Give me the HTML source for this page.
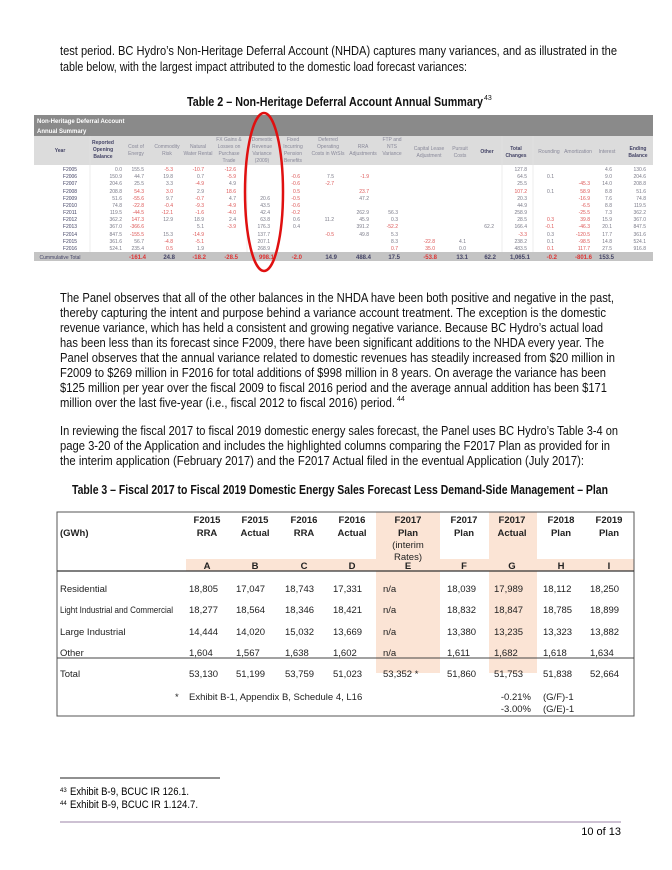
<!DOCTYPE html>
<html><head><meta charset="utf-8"><style>
html,body{margin:0;padding:0;background:#fff;}
svg{display:block;font-family:"Liberation Sans",sans-serif;}
</style></head><body>
<svg width="672" height="870" viewBox="0 0 672 870" xmlns="http://www.w3.org/2000/svg">
<rect width="672" height="870" fill="#fff"/>
<g font-size="13" fill="#111">
<text x="60" y="55" textLength="557" lengthAdjust="spacingAndGlyphs">test period. BC Hydro’s Non-Heritage Deferral Account (NHDA) captures many variances, and as illustrated in the</text>
<text x="60" y="71" textLength="407" lengthAdjust="spacingAndGlyphs">table below, with the largest impact attributed to the domestic load forecast variances:</text>
<text x="187" y="106" font-weight="bold" textLength="296" lengthAdjust="spacingAndGlyphs">Table 2 – Non-Heritage Deferral Account Annual Summary</text>
<text x="484" y="100" font-size="7">43</text>

<text x="60" y="302" textLength="554" lengthAdjust="spacingAndGlyphs">The Panel observes that all of the other balances in the NHDA have been both positive and negative in the past,</text>
<text x="60" y="317" textLength="546" lengthAdjust="spacingAndGlyphs">thereby capturing the intent and purpose behind a variance account treatment. The exception is the domestic</text>
<text x="60" y="332" textLength="543" lengthAdjust="spacingAndGlyphs">revenue variance, which has held a consistent and growing negative variance. Because BC Hydro’s actual load</text>
<text x="60" y="347" textLength="544" lengthAdjust="spacingAndGlyphs">has been less than its forecast since F2009, there have been significant additions to the NHDA every year. The</text>
<text x="60" y="362" textLength="555" lengthAdjust="spacingAndGlyphs">Panel observes that the annual variance related to domestic revenues has steadily increased from $20 million in</text>
<text x="60" y="377" textLength="546" lengthAdjust="spacingAndGlyphs">F2009 to $269 million in F2016 for total additions of $998 million in 8 years. On average the variance has been</text>
<text x="60" y="392" textLength="547" lengthAdjust="spacingAndGlyphs">$125 million per year over the fiscal 2009 to fiscal 2016 period and the average annual addition has been $171</text>
<text x="60" y="407" textLength="335" lengthAdjust="spacingAndGlyphs">million over the last five-year (i.e., fiscal 2012 to fiscal 2016) period.</text>
<text x="397" y="401" font-size="7">44</text>

<text x="60" y="435" textLength="558" lengthAdjust="spacingAndGlyphs">In reviewing the fiscal 2017 to fiscal 2019 domestic energy sales forecast, the Panel uses BC Hydro’s Table 3-4 on</text>
<text x="60" y="450" textLength="550" lengthAdjust="spacingAndGlyphs">page 3-20 of the Application and includes the highlighted columns comparing the F2017 Plan as provided for in</text>
<text x="60" y="465" textLength="524" lengthAdjust="spacingAndGlyphs">the interim application (February 2017) and the F2017 Actual filed in the eventual Application (July 2017):</text>
<text x="72" y="494" font-weight="bold" textLength="536" lengthAdjust="spacingAndGlyphs">Table 3 – Fiscal 2017 to Fiscal 2019 Domestic Energy Sales Forecast Less Demand-Side Management – Plan</text>
</g>

<!-- Table 2 -->
<g font-size="5">
<rect x="34" y="115" width="619" height="146" fill="#eeeeee"/>
<rect x="34" y="115" width="619" height="21" fill="#8a8a8a"/>
<text x="37" y="123" fill="#fff" font-size="6" font-weight="bold">Non-Heritage Deferral Account</text>
<text x="37" y="133" fill="#fff" font-size="6" font-weight="bold">Annual Summary</text>
<rect x="34" y="136" width="619" height="29" fill="#dcdcdc"/>
<rect x="34" y="165" width="619" height="87" fill="#fff"/>
<rect x="34" y="252" width="619" height="9" fill="#c4c4c4"/>
<g fill="#889" text-anchor="middle">
<text x="60" y="152" font-weight="bold" fill="#446">Year</text>
<text x="103" y="144" font-weight="bold" fill="#446">Reported</text><text x="103" y="151" font-weight="bold" fill="#446">Opening</text><text x="103" y="158" font-weight="bold" fill="#446">Balance</text>
<text x="136" y="148">Cost of</text><text x="136" y="155">Energy</text>
<text x="167" y="148">Commodity</text><text x="167" y="155">Risk</text>
<text x="198" y="148">Natural</text><text x="198" y="155">Water Rental</text>
<text x="229" y="141">FX Gains &amp;</text><text x="229" y="148">Losses on</text><text x="229" y="155">Purchase</text><text x="229" y="162">Trade</text>
<text x="262" y="141">Domestic</text><text x="262" y="148">Revenue</text><text x="262" y="155">Variance</text><text x="262" y="162">(2009)</text>
<text x="293" y="141">Fixed</text><text x="293" y="148">Incurring</text><text x="293" y="155">Pension</text><text x="293" y="162">Benefits</text>
<text x="328" y="141">Deferred</text><text x="328" y="148">Operating</text><text x="328" y="155">Costs in WrSIs</text>
<text x="363" y="148">RRA</text><text x="363" y="155">Adjustments</text>
<text x="392" y="141">FTP and</text><text x="392" y="148">NTS</text><text x="392" y="155">Variance</text>
<text x="429" y="150">Capital Lease</text><text x="429" y="157">Adjustment</text>
<text x="460" y="150">Pursuit</text><text x="460" y="157">Costs</text>
<text x="487" y="153" font-weight="bold" fill="#446">Other</text>
<text x="516" y="150" font-weight="bold" fill="#446">Total</text><text x="516" y="157" font-weight="bold" fill="#446">Changes</text>
<text x="549" y="153">Rounding</text>
<text x="578" y="153">Amortization</text>
<text x="607" y="153">Interest</text>
<text x="638" y="150" font-weight="bold" fill="#446">Ending</text><text x="638" y="157" font-weight="bold" fill="#446">Balance</text>
</g>
<g fill="#7a7a88" text-anchor="end">
<text x="70" y="171" fill="#446" text-anchor="middle">F2005</text><text x="122" y="171">0.0</text><text x="144" y="171">155.5</text><text x="173" y="171" fill="#d55">-5.3</text><text x="204" y="171" fill="#d55">-10.7</text><text x="236" y="171" fill="#d55">-12.6</text><text x="527" y="171">127.8</text><text x="612" y="171">4.6</text><text x="646" y="171">130.6</text>
<text x="70" y="178" fill="#446" text-anchor="middle">F2006</text><text x="122" y="178">150.9</text><text x="144" y="178">44.7</text><text x="173" y="178">19.8</text><text x="204" y="178">0.7</text><text x="236" y="178" fill="#d55">-5.9</text><text x="300" y="178" fill="#d55">-0.6</text><text x="334" y="178">7.5</text><text x="369" y="178" fill="#d55">-1.9</text><text x="527" y="178">64.5</text><text x="554" y="178">0.1</text><text x="612" y="178">9.0</text><text x="646" y="178">204.6</text>
<text x="70" y="185" fill="#446" text-anchor="middle">F2007</text><text x="122" y="185">204.6</text><text x="144" y="185">25.5</text><text x="173" y="185">3.3</text><text x="204" y="185" fill="#d55">-4.9</text><text x="236" y="185">4.9</text><text x="300" y="185" fill="#d55">-0.6</text><text x="334" y="185" fill="#d55">-2.7</text><text x="527" y="185">25.5</text><text x="590" y="185" fill="#d55">-45.3</text><text x="612" y="185">14.0</text><text x="646" y="185">208.8</text>
<text x="70" y="193" fill="#446" text-anchor="middle">F2008</text><text x="122" y="193">208.8</text><text x="144" y="193" fill="#d55">54.3</text><text x="173" y="193" fill="#d55">3.0</text><text x="204" y="193">2.9</text><text x="236" y="193" fill="#d55">18.6</text><text x="300" y="193" fill="#d55">0.5</text><text x="369" y="193" fill="#d55">23.7</text><text x="527" y="193" fill="#d55">107.2</text><text x="554" y="193">0.1</text><text x="590" y="193" fill="#d55">58.9</text><text x="612" y="193">8.8</text><text x="646" y="193">51.6</text>
<text x="70" y="200" fill="#446" text-anchor="middle">F2009</text><text x="122" y="200">51.6</text><text x="144" y="200" fill="#d55">-55.6</text><text x="173" y="200">9.7</text><text x="204" y="200" fill="#d55">-0.7</text><text x="236" y="200">4.7</text><text x="270" y="200">20.6</text><text x="300" y="200" fill="#d55">-0.5</text><text x="369" y="200">47.2</text><text x="527" y="200">20.3</text><text x="590" y="200" fill="#d55">-16.9</text><text x="612" y="200">7.6</text><text x="646" y="200">74.8</text>
<text x="70" y="207" fill="#446" text-anchor="middle">F2010</text><text x="122" y="207">74.8</text><text x="144" y="207" fill="#d55">-22.8</text><text x="173" y="207" fill="#d55">-0.4</text><text x="204" y="207" fill="#d55">-9.3</text><text x="236" y="207" fill="#d55">-4.9</text><text x="270" y="207">43.5</text><text x="300" y="207" fill="#d55">-0.6</text><text x="527" y="207">44.9</text><text x="590" y="207" fill="#d55">-6.5</text><text x="612" y="207">8.8</text><text x="646" y="207">119.5</text>
<text x="70" y="214" fill="#446" text-anchor="middle">F2011</text><text x="122" y="214">119.5</text><text x="144" y="214" fill="#d55">-44.5</text><text x="173" y="214" fill="#d55">-12.1</text><text x="204" y="214" fill="#d55">-1.6</text><text x="236" y="214" fill="#d55">-4.0</text><text x="270" y="214">42.4</text><text x="300" y="214" fill="#d55">-0.2</text><text x="369" y="214">262.9</text><text x="398" y="214">56.3</text><text x="527" y="214">258.9</text><text x="590" y="214" fill="#d55">-25.5</text><text x="612" y="214">7.3</text><text x="646" y="214">362.2</text>
<text x="70" y="221" fill="#446" text-anchor="middle">F2012</text><text x="122" y="221">362.2</text><text x="144" y="221" fill="#d55">147.3</text><text x="173" y="221">12.9</text><text x="204" y="221">18.9</text><text x="236" y="221">2.4</text><text x="270" y="221">63.8</text><text x="300" y="221">0.6</text><text x="334" y="221">11.2</text><text x="369" y="221">45.9</text><text x="398" y="221">0.3</text><text x="527" y="221">28.5</text><text x="554" y="221" fill="#d55">0.3</text><text x="590" y="221" fill="#d55">39.8</text><text x="612" y="221">15.9</text><text x="646" y="221">367.0</text>
<text x="70" y="228" fill="#446" text-anchor="middle">F2013</text><text x="122" y="228">367.0</text><text x="144" y="228" fill="#d55">-366.6</text><text x="204" y="228">5.1</text><text x="236" y="228" fill="#d55">-3.9</text><text x="270" y="228">176.3</text><text x="300" y="228">0.4</text><text x="369" y="228">391.2</text><text x="398" y="228" fill="#d55">-52.2</text><text x="494" y="228">62.2</text><text x="527" y="228">166.4</text><text x="554" y="228" fill="#d55">-0.1</text><text x="590" y="228" fill="#d55">-46.3</text><text x="612" y="228">20.1</text><text x="646" y="228">847.5</text>
<text x="70" y="236" fill="#446" text-anchor="middle">F2014</text><text x="122" y="236">847.5</text><text x="144" y="236" fill="#d55">-155.5</text><text x="173" y="236">15.3</text><text x="204" y="236" fill="#d55">-14.9</text><text x="270" y="236">137.7</text><text x="334" y="236" fill="#d55">-0.5</text><text x="369" y="236">49.8</text><text x="398" y="236">5.3</text><text x="527" y="236" fill="#d55">-3.3</text><text x="554" y="236">0.3</text><text x="590" y="236" fill="#d55">-120.5</text><text x="612" y="236">17.7</text><text x="646" y="236">361.6</text>
<text x="70" y="243" fill="#446" text-anchor="middle">F2015</text><text x="122" y="243">361.6</text><text x="144" y="243">56.7</text><text x="173" y="243" fill="#d55">-4.8</text><text x="204" y="243" fill="#d55">-5.1</text><text x="270" y="243">207.1</text><text x="398" y="243">8.3</text><text x="435" y="243" fill="#d55">-22.8</text><text x="466" y="243">4.1</text><text x="527" y="243">238.2</text><text x="554" y="243">0.1</text><text x="590" y="243" fill="#d55">-98.5</text><text x="612" y="243">14.8</text><text x="646" y="243">524.1</text>
<text x="70" y="250" fill="#446" text-anchor="middle">F2016</text><text x="122" y="250">524.1</text><text x="144" y="250">235.4</text><text x="173" y="250" fill="#d55">0.5</text><text x="204" y="250">1.9</text><text x="270" y="250">268.9</text><text x="398" y="250" fill="#d55">0.7</text><text x="435" y="250" fill="#d55">35.0</text><text x="466" y="250">0.0</text><text x="527" y="250">483.5</text><text x="554" y="250" fill="#d55">0.1</text><text x="590" y="250" fill="#d55">117.7</text><text x="612" y="250">27.5</text><text x="646" y="250">916.8</text>
</g>
<g font-size="6" font-weight="bold" text-anchor="end" fill="#d33">
<text x="60" y="259" text-anchor="middle" fill="#446" font-size="5" font-weight="normal">Cummulative Total</text>
<text x="146" y="259">-161.4</text><text x="175" y="259" fill="#446">24.8</text><text x="206" y="259">-18.2</text><text x="238" y="259">-28.5</text><text x="274" y="259">998.1</text><text x="302" y="259">-2.0</text><text x="337" y="259" fill="#446">14.9</text><text x="371" y="259" fill="#446">488.4</text><text x="400" y="259" fill="#446">17.5</text><text x="437" y="259">-53.8</text><text x="468" y="259" fill="#446">13.1</text><text x="496" y="259" fill="#446">62.2</text><text x="530" y="259" fill="#446">1,065.1</text><text x="557" y="259">-0.2</text><text x="592" y="259">-801.6</text><text x="614" y="259" fill="#446">153.5</text>
</g>
<g stroke="#e2e2e2" stroke-width="0.6">
<line x1="90" y1="136" x2="90" y2="252"/><line x1="247" y1="136" x2="247" y2="252"/><line x1="502" y1="136" x2="502" y2="252"/><line x1="533" y1="136" x2="533" y2="252"/>
</g>
</g>
<ellipse cx="264" cy="192" rx="19" ry="79" fill="none" stroke="#e01010" stroke-width="2.5"/>

<!-- Table 3 -->
<g font-size="9.5" fill="#222">
<rect x="376" y="512" width="64" height="161" fill="#fbe4d5"/>
<rect x="489" y="512" width="48" height="161" fill="#fbe4d5"/>
<rect x="186" y="559" width="448" height="12" fill="#fbe4d5"/>
<rect x="57" y="512" width="577" height="204" fill="none" stroke="#555" stroke-width="1"/>
<line x1="57" y1="571" x2="634" y2="571" stroke="#333" stroke-width="1.3"/>
<line x1="57" y1="658" x2="634" y2="658" stroke="#444" stroke-width="0.9"/>
<text x="60" y="536" font-weight="bold">(GWh)</text>
<g font-weight="bold" text-anchor="middle">
<text x="207" y="523">F2015</text><text x="207" y="536">RRA</text>
<text x="255" y="523">F2015</text><text x="255" y="536">Actual</text>
<text x="304" y="523">F2016</text><text x="304" y="536">RRA</text>
<text x="352" y="523">F2016</text><text x="352" y="536">Actual</text>
<text x="408" y="523">F2017</text><text x="408" y="536">Plan</text>
<text x="408" y="548" font-weight="normal">(interim</text><text x="408" y="560" font-weight="normal">Rates)</text>
<text x="464" y="523">F2017</text><text x="464" y="536">Plan</text>
<text x="512" y="523">F2017</text><text x="512" y="536">Actual</text>
<text x="561" y="523">F2018</text><text x="561" y="536">Plan</text>
<text x="609" y="523">F2019</text><text x="609" y="536">Plan</text>
<text x="207" y="569">A</text><text x="255" y="569">B</text><text x="304" y="569">C</text><text x="352" y="569">D</text><text x="408" y="569">E</text><text x="464" y="569">F</text><text x="512" y="569">G</text><text x="561" y="569">H</text><text x="609" y="569">I</text>
</g>
<text x="60" y="592">Residential</text>
<text x="60" y="613" textLength="113" lengthAdjust="spacingAndGlyphs">Light Industrial and Commercial</text>
<text x="60" y="635">Large Industrial</text>
<text x="60" y="656">Other</text>
<text x="60" y="677">Total</text>
<g>
<text x="189" y="592">18,805</text><text x="236" y="592">17,047</text><text x="285" y="592">18,743</text><text x="333" y="592">17,331</text><text x="383" y="592">n/a</text><text x="447" y="592">18,039</text><text x="494" y="592">17,989</text><text x="543" y="592">18,112</text><text x="590" y="592">18,250</text>
<text x="189" y="613">18,277</text><text x="236" y="613">18,564</text><text x="285" y="613">18,346</text><text x="333" y="613">18,421</text><text x="383" y="613">n/a</text><text x="447" y="613">18,832</text><text x="494" y="613">18,847</text><text x="543" y="613">18,785</text><text x="590" y="613">18,899</text>
<text x="189" y="635">14,444</text><text x="236" y="635">14,020</text><text x="285" y="635">15,032</text><text x="333" y="635">13,669</text><text x="383" y="635">n/a</text><text x="447" y="635">13,380</text><text x="494" y="635">13,235</text><text x="543" y="635">13,323</text><text x="590" y="635">13,882</text>
<text x="189" y="656">1,604</text><text x="236" y="656">1,567</text><text x="285" y="656">1,638</text><text x="333" y="656">1,602</text><text x="383" y="656">n/a</text><text x="447" y="656">1,611</text><text x="494" y="656">1,682</text><text x="543" y="656">1,618</text><text x="590" y="656">1,634</text>
<text x="189" y="677">53,130</text><text x="236" y="677">51,199</text><text x="285" y="677">53,759</text><text x="333" y="677">51,023</text><text x="383" y="677">53,352 *</text><text x="447" y="677">51,860</text><text x="494" y="677">51,753</text><text x="543" y="677">51,838</text><text x="590" y="677">52,664</text>
</g>
<text x="175" y="700">*</text>
<text x="189" y="700">Exhibit B-1, Appendix B, Schedule 4, L16</text>
<text x="531" y="700" text-anchor="end">-0.21%</text><text x="543" y="700">(G/F)-1</text>
<text x="531" y="712" text-anchor="end">-3.00%</text><text x="543" y="712">(G/E)-1</text>
</g>

<!-- Footer -->
<line x1="60" y1="778" x2="220" y2="778" stroke="#222" stroke-width="1"/>
<text x="60" y="792" font-size="6">43</text>
<text x="70" y="795" font-size="11" textLength="119" lengthAdjust="spacingAndGlyphs">Exhibit B-9, BCUC IR 126.1.</text>
<text x="60" y="805" font-size="6">44</text>
<text x="70" y="808" font-size="11" textLength="128" lengthAdjust="spacingAndGlyphs">Exhibit B-9, BCUC IR 1.124.7.</text>
<line x1="60" y1="822" x2="621" y2="822" stroke="#7a5a8a" stroke-width="0.8"/>
<text x="621" y="835" font-size="11" text-anchor="end">10 of 13</text>
</svg>
</body></html>
